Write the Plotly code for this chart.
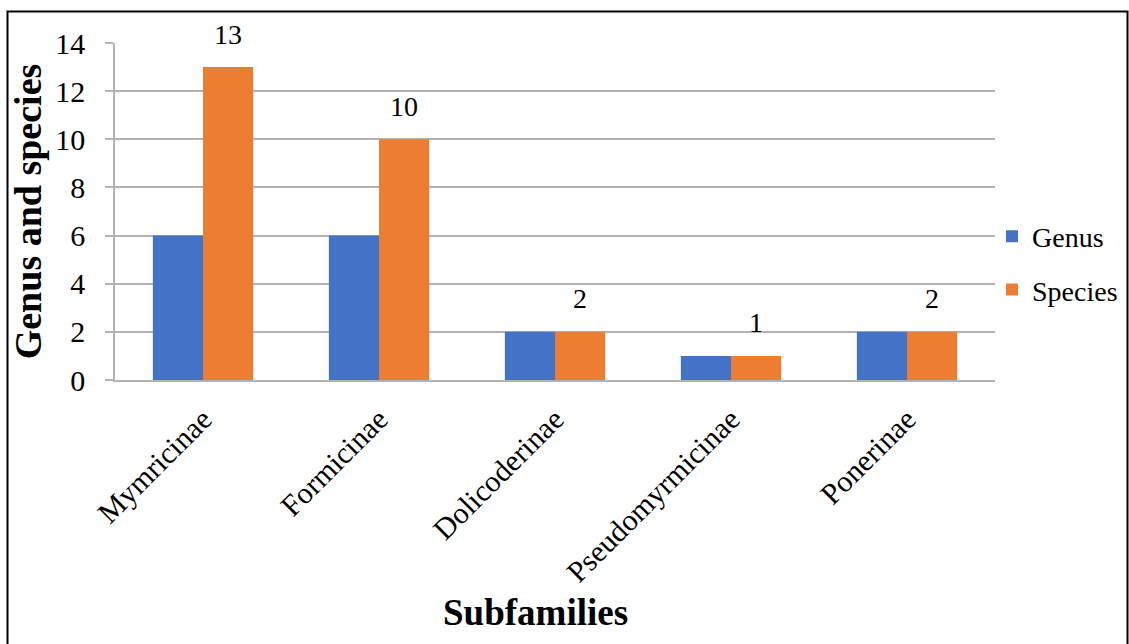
import plotly.graph_objects as go

# Ant subfamilies with genus and species counts
subfamilies = ["Mymricinae", "Formicinae", "Dolicoderinae", "Pseudomyrmicinae", "Ponerinae"]
genus_counts = [6, 6, 2, 1, 2]
species_counts = [13, 10, 2, 1, 2]
y_ticks = [0, 2, 4, 6, 8, 10, 12, 14]

FONT = "Liberation Serif"
BLUE = "#4472C4"
ORANGE = "#ED7D31"
GRID = "#B3B3B3"

W, H = 1129, 644
ML, MR, MT, MB = 115, 134, 43, 264
PW = W - ML - MR
PH = H - MT - MB


def px_x(p):
    return (p - ML) / PW


def px_y(p):
    return (H - MB - p) / PH


fig = go.Figure()
fig.add_trace(go.Bar(x=subfamilies, y=genus_counts, name="Genus",
                     marker=dict(color=BLUE, line=dict(width=0)),
                     legendgroup="g", hoverinfo="skip"))
fig.add_trace(go.Bar(x=subfamilies, y=species_counts, name="Species",
                     marker=dict(color=ORANGE, line=dict(width=0)),
                     legendgroup="s", hoverinfo="skip"))

# value labels above the species bars
for cat, val in zip(subfamilies, species_counts):
    fig.add_annotation(x=cat, y=val, xref="x", yref="y", text=str(val),
                       showarrow=False, xshift=25, yshift=33, yanchor="middle",
                       font=dict(family=FONT, size=28, color="black"))

# x-axis title
fig.add_annotation(x=px_x(535), y=px_y(612), xref="paper", yref="paper",
                   text="<b>Subfamilies</b>", showarrow=False,
                   xanchor="center", yanchor="middle",
                   font=dict(family=FONT, size=37, color="black"))

# outer frame around the chart
fig.add_shape(type="rect", xref="paper", yref="paper",
              x0=px_x(7.5), x1=px_x(1127.5), y0=px_y(660), y1=px_y(11.5),
              line=dict(color="black", width=2), fillcolor="rgba(0,0,0,0)", layer="below")

fig.update_layout(
    width=W, height=H,
    margin=dict(l=ML, r=MR, t=MT, b=MB, autoexpand=False),
    paper_bgcolor="white", plot_bgcolor="white",
    barmode="group", bargap=0.43, bargroupgap=0,
    font=dict(family=FONT, color="black"),
    showlegend=True,
    legend=dict(x=px_x(992), y=px_y(263), xanchor="left", yanchor="middle",
                font=dict(family=FONT, size=28, color="black"),
                tracegroupgap=14, itemwidth=30, bgcolor="rgba(0,0,0,0)"),
    xaxis=dict(
        tickangle=-45, tickfont=dict(family=FONT, size=30, color="black"),
        showline=True, linecolor=GRID, linewidth=1.5,
        ticks="", showgrid=False, ticklabelstandoff=8,
    ),
    yaxis=dict(
        title=dict(text="<b>Genus and species</b>", font=dict(family=FONT, size=38, color="black"),
                   standoff=2),
        range=[0, 14], tickvals=y_ticks,
        tickfont=dict(family=FONT, size=30, color="black"),
        showline=True, linecolor=GRID, linewidth=1.5,
        showgrid=True, gridcolor=GRID, gridwidth=1.5,
        ticks="outside", ticklen=8, tickcolor=GRID, tickwidth=1.5,
        ticklabelstandoff=14, zeroline=False,
    ),
)

fig.write_html("out.html")
